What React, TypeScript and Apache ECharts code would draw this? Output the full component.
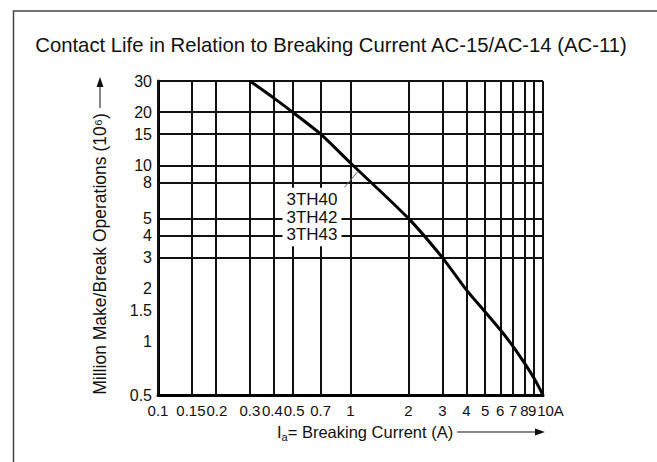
import React, { useEffect, useRef } from "react";
import * as echarts from "echarts";

// ---- data ----
const currents = [0.3, 0.4, 0.5, 0.7, 1, 2, 3, 4, 5, 6, 7, 8, 9, 10];
const operations = [30, 24, 20, 15, 10.3, 5, 3, 1.97, 1.48, 1.17, 0.94, 0.76, 0.62, 0.5];
const xTicks = [0.1, 0.15, 0.2, 0.3, 0.4, 0.5, 0.7, 1, 2, 3, 4, 5, 6, 7, 8, 9, 10];
const xTickLabels = ["0.1", "0.15", "0.2", "0.3", "0.4", "0.5", "0.7", "1", "2", "3", "4", "5", "6", "7", "8", "9", "10A"];
const yTicks = [0.5, 1, 1.5, 2, 3, 4, 5, 8, 10, 15, 20, 30];
const yTickLabels = ["0.5", "1", "1.5", "2", "3", "4", "5", "8", "10", "15", "20", "30"];
const yGridValues = [3, 4, 5, 8, 10, 15, 20, 30];
const deviceTypes = ["3TH40", "3TH42", "3TH43"];
const leaderCurrents = [0.93, 1.1];
const leaderOperations = [7.5, 9.3];
const titleText = "Contact Life in Relation to Breaking Current AC-15/AC-14 (AC-11)";
const yAxisName = "Million Make/Break Operations (10\u2076)";
const xAxisName = "= Breaking Current (A)";

const FONT = "'Liberation Sans', Arial, Helvetica, sans-serif";
const INK = "#111";

// small nudges (label padding) so crowded tick labels do not collide
const xLabelPadding: Record<string, number[]> = {
  "0.15": [0, 2, 0, 0],
  "0.2": [0, 0, 0, 2],
  "0.4": [0, 3, 0, 0],
  "0.5": [0, 0, 0, 3],
  "9": [0, 4, 0, 0],
  "10A": [0, 0, 0, 15],
};
const yLabelPadding: Record<string, number[]> = {
  "10": [0, 0, 3, 0],
  "8": [3, 0, 0, 0],
  "5": [0, 0, 3, 0],
  "4": [3, 0, 0, 0],
};

export default function App() {
  const ref = useRef<HTMLDivElement>(null);

  useEffect(() => {
    if (!ref.current) return;
    const chart = echarts.init(ref.current, null, { renderer: "svg" });

    const xItems = xTicks.map((v, i) => ({
      xAxis: v,
      label: {
        formatter: xTickLabels[i],
        fontSize: 15,
        distance: 8,
        padding: xLabelPadding[xTickLabels[i]] || 0,
      },
    }));
    const yItems = yTicks.map((v, i) => ({
      yAxis: v,
      label: {
        formatter: yTickLabels[i],
        fontSize: 16,
        distance: 6,
        padding: yLabelPadding[yTickLabels[i]] || 0,
      },
      lineStyle: yGridValues.includes(v)
        ? { color: INK, width: 2, type: "solid" }
        : { color: "rgba(0,0,0,0)", width: 2, type: "solid" },
    }));

    const option: any = {
      animation: false,
      backgroundColor: "#ffffff",
      grid: { left: 158, top: 81, width: 385, height: 314, containLabel: false, outerBoundsMode: "none" },
      xAxis: {
        type: "log",
        logBase: 10,
        min: 0.1,
        max: 10,
        axisLine: { show: true, onZero: false, lineStyle: { color: "#000", width: 3 } },
        axisTick: { show: false },
        axisLabel: { show: false },
        splitLine: { show: false },
        minorTick: { show: false },
        minorSplitLine: { show: false },
      },
      yAxis: {
        type: "log",
        logBase: 10,
        min: 0.5,
        max: 30,
        axisLine: { show: true, onZero: false, lineStyle: { color: "#000", width: 3 } },
        axisTick: { show: false },
        axisLabel: { show: false },
        splitLine: { show: false },
        minorTick: { show: false },
        minorSplitLine: { show: false },
      },
      series: [
        {
          type: "line",
          data: currents.map((c, i) => [c, operations[i]]),
          symbol: "none",
          smooth: 0.25,
          lineStyle: { color: "#000", width: 3 },
          z: 10,
          silent: true,
          markLine: {
            silent: true,
            symbol: "none",
            animation: false,
            lineStyle: { color: INK, width: 2, type: "solid" },
            label: {
              show: true,
              position: "start",
              color: INK,
              fontFamily: FONT,
            },
            emphasis: { disabled: true },
            data: [...xItems, ...yItems],
          },
        },
        {
          type: "line",
          data: leaderCurrents.map((c, i) => [c, leaderOperations[i]]),
          symbol: "none",
          lineStyle: { color: "#666", width: 1 },
          silent: true,
          z: 11,
        },
      ],
      graphic: [
        {
          type: "rect",
          shape: { x: 13.5, y: 11, width: 700, height: 600 },
          style: { fill: "none", stroke: "#444", lineWidth: 1.5 },
          silent: true,
          z: 0,
        },
        {
          type: "text",
          x: 331,
          y: 45,
          style: {
            text: titleText,
            font: `20.3px ${FONT}`,
            fill: INK,
            align: "center",
            verticalAlign: "middle",
          },
          z: 100,
        },
        {
          type: "text",
          x: 312,
          y: 217,
          style: {
            text: deviceTypes.join("\n"),
            font: `17px ${FONT}`,
            lineHeight: 17.5,
            fill: INK,
            align: "center",
            verticalAlign: "middle",
            backgroundColor: "#fff",
            padding: [3, 4],
          },
          z: 100,
        },
        {
          type: "text",
          x: 100,
          y: 254,
          rotation: Math.PI / 2,
          style: {
            text: yAxisName,
            font: `17.5px ${FONT}`,
            fill: INK,
            align: "center",
            verticalAlign: "middle",
          },
          z: 100,
        },
        {
          type: "line",
          shape: { x1: 100, y1: 108, x2: 100, y2: 86 },
          style: { stroke: INK, lineWidth: 1 },
          z: 100,
        },
        {
          type: "polygon",
          shape: { points: [[100, 77], [96.5, 87], [103.5, 87]] },
          style: { fill: INK },
          z: 100,
        },
        {
          type: "text",
          x: 277,
          y: 432,
          style: {
            text: "{i|I}{s|a}{n|" + xAxisName + "}",
            fill: INK,
            align: "left",
            verticalAlign: "middle",
            rich: {
              i: { font: `16.5px ${FONT}`, fill: INK, lineHeight: 20 },
              s: { font: `11px ${FONT}`, fill: INK, padding: [9, 0, 0, 0] },
              n: { font: `16.5px ${FONT}`, fill: INK, lineHeight: 20 },
            },
          },
          z: 100,
        },
        {
          type: "line",
          shape: { x1: 457, y1: 432, x2: 537, y2: 432 },
          style: { stroke: INK, lineWidth: 1 },
          z: 100,
        },
        {
          type: "polygon",
          shape: { points: [[545, 432], [535, 428.5], [535, 435.5]] },
          style: { fill: INK },
          z: 100,
        },
      ],
    };

    chart.setOption(option);
    return () => {
      chart.dispose();
    };
  }, []);

  return (
    <div
      ref={ref}
      style={{ position: "fixed", left: 0, top: 0, width: 657, height: 462, background: "#fff" }}
    />
  );
}
